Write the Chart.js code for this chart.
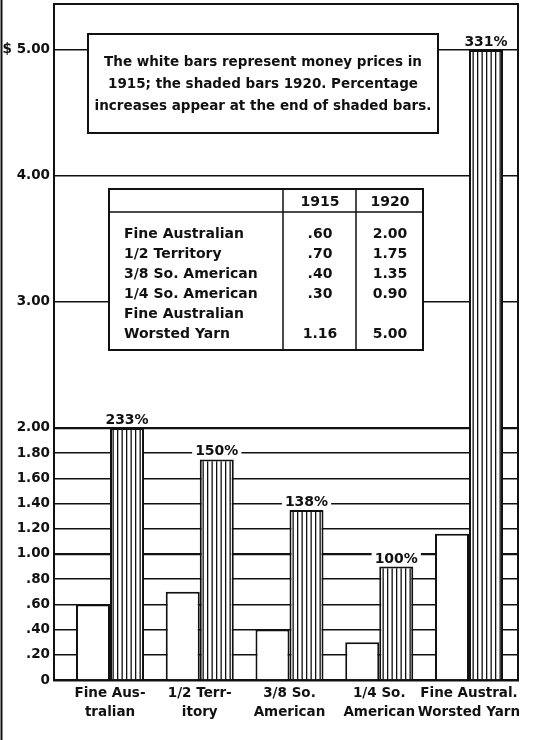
<!DOCTYPE html>
<html><head><meta charset="utf-8">
<script src="https://cdn.jsdelivr.net/npm/chart.js@4/dist/chart.umd.min.js"></script>
<style>html,body{margin:0;padding:0;background:#fff;} #wrap{width:535px;height:740px;position:relative;}</style>
</head><body><div id="wrap"><canvas id="c" width="535" height="740"></canvas></div>
<script>
const categories = [["Fine Aus-","tralian"],["1/2 Terr-","itory"],["3/8 So.","American"],["1/4 So.","American"],["Fine Austral.","Worsted Yarn"]];
const prices1915 = [0.60, 0.70, 0.40, 0.30, 1.16];
const prices1920 = [2.00, 1.75, 1.35, 0.90, 5.00];
const increaseLabels = ["233%", "150%", "138%", "100%", "331%"];
const yTickValues = [0, 0.2, 0.4, 0.6, 0.8, 1.0, 1.2, 1.4, 1.6, 1.8, 2.0, 3.0, 4.0, 5.0];
const yTickLabels = ["0", ".20", ".40", ".60", ".80", "1.00", "1.20", "1.40", "1.60", "1.80", "2.00", "3.00", "4.00", "$ 5.00"];
const tableRowLabels = [["Fine Australian"], ["1/2 Territory"], ["3/8 So. American"], ["1/4 So. American"], ["Fine Australian", "Worsted Yarn"]];
const tableYears = ["1915", "1920"];
const noteLines = ["The white bars represent money prices in", "1915; the shaded bars 1920. Percentage", "increases appear at the end of shaded bars."];

const FONT = "'DejaVu Sans', sans-serif";
const INK = '#111';

function stripePattern() {
  const c = document.createElement('canvas');
  c.width = 9; c.height = 10;
  const g = c.getContext('2d');
  g.fillStyle = '#fff'; g.fillRect(0, 0, 9, 10);
  g.fillStyle = INK;
  g.fillRect(0, 0, 1.3, 10);
  g.fillRect(4.5, 0, 1.3, 10);
  return g.createPattern(c, 'repeat');
}
const fmt1915 = v => v < 1 ? v.toFixed(2).replace(/^0/, '') : v.toFixed(2);
const fmt1920 = v => v.toFixed(2);

const decor = {
  id: 'decor',
  beforeDraw(chart) {
    const ctx = chart.ctx;
    ctx.save();
    ctx.fillStyle = '#fff';
    ctx.fillRect(0, 0, chart.width, chart.height);
    ctx.restore();
  },
  afterDatasetsDraw(chart) {
    const ctx = chart.ctx, a = chart.chartArea;
    ctx.save();
    ctx.strokeStyle = INK;
    ctx.lineWidth = 2;
    ctx.beginPath(); ctx.moveTo(1.5, 0); ctx.lineTo(1.5, chart.height); ctx.stroke();
    ctx.beginPath(); ctx.moveTo(a.left, a.top); ctx.lineTo(a.right, a.top); ctx.lineTo(a.right, a.bottom); ctx.stroke();

    // note box
    ctx.fillStyle = '#fff';
    ctx.fillRect(88, 34, 350, 99);
    ctx.lineWidth = 2;
    ctx.strokeRect(88, 34, 350, 99);
    ctx.fillStyle = INK;
    ctx.font = 'bold 13.5px ' + FONT;
    ctx.textAlign = 'center'; ctx.textBaseline = 'middle';
    noteLines.forEach((t, i) => ctx.fillText(t, 263, 62 + i * 22));

    // table
    const tx = 109, ty = 189, tw = 314, th = 161;
    ctx.fillStyle = '#fff';
    ctx.fillRect(tx, ty, tw, th);
    ctx.strokeRect(tx, ty, tw, th);
    ctx.lineWidth = 1.5;
    ctx.beginPath();
    ctx.moveTo(tx, 212); ctx.lineTo(tx + tw, 212);
    ctx.moveTo(283, ty); ctx.lineTo(283, ty + th);
    ctx.moveTo(356, ty); ctx.lineTo(356, ty + th);
    ctx.stroke();
    ctx.fillStyle = INK;
    ctx.font = 'bold 14px ' + FONT;
    ctx.textAlign = 'center';
    ctx.fillText(tableYears[0], 320, 202);
    ctx.fillText(tableYears[1], 390, 202);
    let y = 234;
    tableRowLabels.forEach((lines, i) => {
      ctx.textAlign = 'left';
      lines.forEach((l, k) => ctx.fillText(l, 124, y + k * 20));
      const vy = y + (lines.length - 1) * 20;
      ctx.textAlign = 'center';
      ctx.fillText(fmt1915(prices1915[i]), 320, vy);
      ctx.fillText(fmt1920(prices1920[i]), 390, vy);
      y += lines.length * 20;
    });

    // percentage labels
    const meta = chart.getDatasetMeta(1);
    ctx.font = 'bold 14px ' + FONT;
    ctx.textAlign = 'center'; ctx.textBaseline = 'alphabetic';
    meta.data.forEach((bar, i) => {
      const t = increaseLabels[i];
      const w = ctx.measureText(t).width;
      ctx.fillStyle = '#fff';
      ctx.fillRect(bar.x - w / 2 - 3, bar.y - 19, w + 6, 16);
      ctx.fillStyle = INK;
      ctx.fillText(t, bar.x, bar.y - 4);
    });
    ctx.restore();
  }
};

new Chart(document.getElementById('c'), {
  type: 'bar',
  data: {
    datasets: [
      {
        label: '1915',
        data: prices1915.map((v, i) => ({ x: i, y: v })),
        backgroundColor: '#fff',
        borderColor: INK,
        borderWidth: 2,
        borderSkipped: 'bottom',
        categoryPercentage: 0.758,
        barPercentage: 1
      },
      {
        label: '1920',
        data: prices1920.map((v, i) => ({ x: i, y: v })),
        backgroundColor: stripePattern(),
        borderColor: INK,
        borderWidth: 2,
        borderSkipped: 'bottom',
        categoryPercentage: 0.758,
        barPercentage: 1
      }
    ]
  },
  options: {
    responsive: false,
    devicePixelRatio: 1,
    animation: false,
    layout: { padding: { top: 4, right: 17, left: 0, bottom: 0 } },
    plugins: { legend: { display: false }, tooltip: { enabled: false } },
    scales: {
      x: {
        type: 'linear',
        offset: false,
        min: -0.624,
        max: 4.546,
        afterBuildTicks: s => { s.ticks = categories.map((c, i) => ({ value: i })); },
        afterFit: s => { s.height = 60; s.paddingLeft = 0; s.paddingRight = 0; },
        grid: { display: false, offset: false, drawTicks: false },
        border: { display: true, color: INK, width: 2.5 },
        ticks: {
          autoSkip: false, maxRotation: 0, padding: 4,
          color: INK,
          font: { family: FONT, weight: 'bold', size: 13.5, lineHeight: 1.4 },
          callback: v => categories[v]
        }
      },
      y: {
        min: 0,
        max: 5.365,
        afterBuildTicks: s => { s.ticks = yTickValues.map(v => ({ value: v })); },
        afterFit: s => { s.width = 54; s.paddingTop = 0; s.paddingBottom = 0; },
        grid: {
          color: INK,
          drawTicks: false,
          lineWidth: c => (c.tick && (c.tick.value === 1 || c.tick.value === 2)) ? 2.2 : 1.4
        },
        border: { display: true, color: INK, width: 2 },
        ticks: {
          padding: 4,
          color: INK,
          font: { family: FONT, weight: 'bold', size: 13.5 },
          callback: (v) => { const i = yTickValues.findIndex(t => Math.abs(t - v) < 1e-6); return i >= 0 ? yTickLabels[i] : ''; }
        }
      }
    }
  },
  plugins: [decor]
});
</script>
</body></html>
